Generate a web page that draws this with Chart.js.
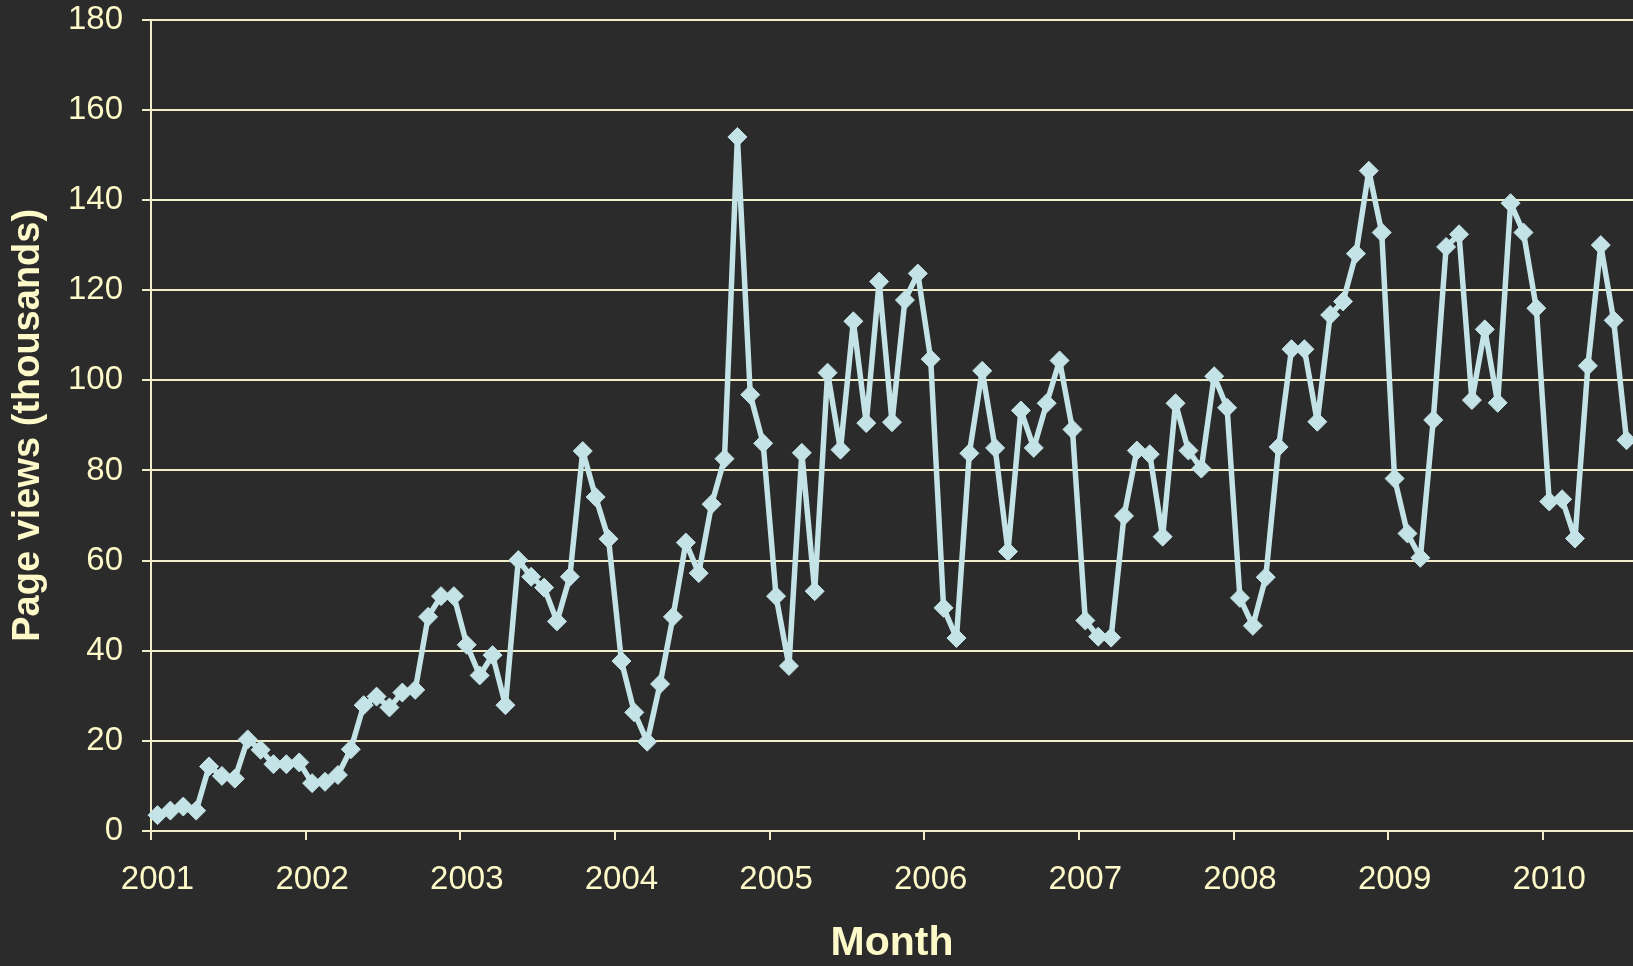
<!DOCTYPE html>
<html>
<head>
<meta charset="utf-8">
<script src="https://cdn.jsdelivr.net/npm/chart.js@4.4.1/dist/chart.umd.min.js"></script>
<style>
  html, body { margin: 0; padding: 0; background: #2b2b2b; overflow: hidden; }
  #wrap { width: 1633px; height: 966px; }
</style>
</head>
<body>
<div id="wrap"><canvas id="viewsChart" width="1633" height="966"></canvas></div>
<script>
// Monthly page views (thousands), Jan 2001 - Jul 2010
const years = ['2001', '2002', '2003', '2004', '2005', '2006', '2007', '2008', '2009', '2010'];
const views2001 = [3.5, 4.5, 5.4, 4.5, 14.3, 12.2, 11.6, 20.3, 18.0, 14.8, 14.8, 15.2];
const views2002 = [10.6, 10.9, 12.4, 18.1, 27.9, 29.8, 27.4, 30.7, 31.3, 47.5, 52.1, 52.1];
const views2003 = [41.3, 34.5, 39.0, 27.9, 60.1, 56.4, 54.0, 46.5, 56.4, 84.3, 74.1, 64.8];
const views2004 = [37.7, 26.3, 19.8, 32.6, 47.5, 64.0, 57.2, 72.5, 82.6, 154.0, 96.8, 86.0];
const views2005 = [52.1, 36.6, 83.9, 53.2, 101.7, 84.6, 113.1, 90.5, 121.9, 90.7, 117.8, 123.7];
const views2006 = [104.7, 49.5, 42.8, 83.8, 102.1, 85.0, 62.0, 93.3, 85.0, 94.9, 104.4, 89.1];
const views2007 = [46.7, 43.1, 42.9, 69.9, 84.4, 83.6, 65.3, 94.9, 84.4, 80.4, 100.9, 93.9];
const views2008 = [51.7, 45.5, 56.3, 85.2, 106.9, 106.9, 90.8, 114.5, 117.5, 128.1, 146.5, 132.8];
const views2009 = [78.2, 66.0, 60.6, 91.2, 129.6, 132.4, 95.6, 111.3, 95.0, 139.3, 132.8, 116.0];
const views2010 = [73.1, 73.6, 64.9, 103.2, 130.0, 113.3, 86.7];

const yearViews = [views2001, views2002, views2003, views2004, views2005,
                   views2006, views2007, views2008, views2009, views2010];

// one category per month, e.g. "2004-10"
const labels = [];
const values = [];
yearViews.forEach((arr, yi) => {
  arr.forEach((v, m) => {
    labels.push(years[yi] + '-' + String(m + 1).padStart(2, '0'));
    values.push(v);
  });
});

const cream = '#fdf9c8';
const gridCream = '#f2eec9';
const lineBlue = '#c3e3e6';
const fontFamily = "'Liberation Sans', Arial, Helvetica, sans-serif";

const ctx = document.getElementById('viewsChart').getContext('2d');

// tick padding is done with long, mostly-dashed-off tick marks
// (Chart.js adds ticks.padding to the chart area insets, which we don't want)
new Chart(ctx, {
  type: 'line',
  data: {
    labels: labels,
    datasets: [{
      label: 'Page views',
      data: values,
      borderColor: lineBlue,
      backgroundColor: lineBlue,
      borderWidth: 5.5,
      borderJoinStyle: 'round',
      tension: 0,
      pointStyle: 'rectRot',
      pointRadius: 9.5,
      pointBorderWidth: 1,
      pointBackgroundColor: lineBlue,
      pointBorderColor: lineBlue,
      fill: false
    }]
  },
  options: {
    responsive: false,
    animation: false,
    layout: { autoPadding: false, padding: 0 },
    plugins: {
      legend: { display: false },
      tooltip: { enabled: false }
    },
    scales: {
      x: {
        type: 'category',
        offset: true,
        border: { display: true, color: gridCream, width: 2 },
        grid: {
          offset: true,
          drawOnChartArea: false,
          drawTicks: true,
          tickLength: 29,
          lineWidth: 2,
          tickBorderDash: [8, 100],
          tickColor: c => (c.index % 12 === 0 ? gridCream : 'rgba(0,0,0,0)')
        },
        ticks: {
          autoSkip: false,
          maxRotation: 0,
          minRotation: 0,
          padding: 0,
          color: cream,
          font: { family: fontFamily, size: 33 },
          callback: function (val, idx) {
            return idx % 12 === 0 ? this.getLabelForValue(val).slice(0, 4) : '';
          }
        },
        title: {
          display: true,
          text: 'Month',
          color: cream,
          font: { family: fontFamily, size: 41, weight: 'bold', lineHeight: 1 },
          padding: { top: 24, bottom: 1.5 }
        }
      },
      y: {
        min: 0,
        max: 180,
        border: { display: true, color: gridCream, width: 2 },
        grid: {
          color: gridCream,
          lineWidth: 2,
          tickLength: 28,
          tickBorderDash: [0, 19, 9, 0],
          drawTicks: true
        },
        ticks: {
          stepSize: 20,
          padding: 0,
          color: cream,
          font: { family: fontFamily, size: 33 }
        },
        title: {
          display: true,
          text: 'Page views (thousands)',
          color: cream,
          font: { family: fontFamily, size: 38, weight: 'bold', lineHeight: 1 },
          padding: { top: 10, bottom: 20 }
        }
      }
    }
  }
});
</script>
</body>
</html>
